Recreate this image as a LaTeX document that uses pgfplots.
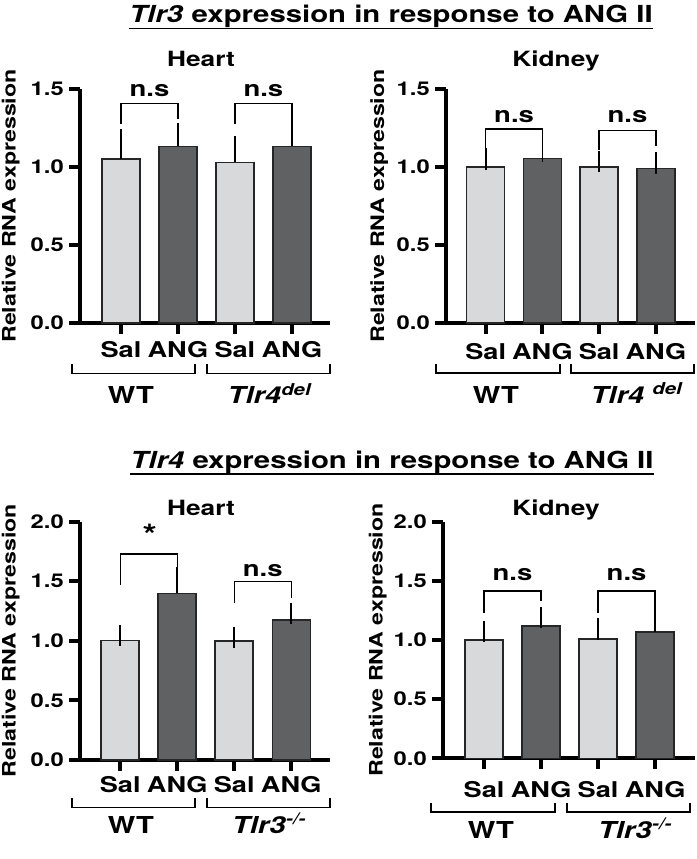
\documentclass[border=0pt]{standalone}
\usepackage{fontspec}
\setmainfont{TeX Gyre Heros}[FakeStretch=1.25]
\usepackage{pgfplots}
\pgfplotsset{compat=1.18}
\definecolor{lightbar}{HTML}{D8D9DB}
\definecolor{darkbar}{HTML}{606163}
\pgfplotsset{
  panel/.style={
    scale only axis, clip=false,
    axis x line=bottom, axis y line=left,
    axis line style={-, line width=3pt, black},
    ymin=0,
    xtick={0,1,2,3}, xticklabels={},
    tick align=outside, xtick pos=bottom, ytick pos=left,
    major tick length=8pt,
    major tick style={line width=3pt, black},
    yticklabel style={font=\fontsize{14.25}{17}\selectfont\bfseries, inner sep=4pt,
      /pgf/number format/.cd, fixed, fixed zerofill, precision=1, assume math mode=true},
    ylabel={Relative RNA expression},
    ylabel style={font=\fontsize{13.9}{16}\selectfont\bfseries,
      at={(axis description cs:0,0.5)}, anchor=center},
  },
  barbase/.style={ybar, bar width=28.5pt, bar shift=0pt, draw=black!85, line width=1.1pt,
    error bars/.cd, y dir=plus, y explicit,
    error bar style={line width=1.2pt, black},
    error mark options={line width=1.2pt, black, mark size=8pt}},
  lbar/.style={fill=lightbar, barbase},
  dbar/.style={fill=darkbar, barbase},
}
\tikzset{
  sig/.style={line width=1pt, black},
  sigtext/.style={font=\fontsize{16.5}{20}\selectfont\bfseries, anchor=base, inner sep=0pt},
  xtl/.style={font=\fontsize{16.3}{20}\selectfont\bfseries, anchor=base, inner sep=0pt},
}
\newcommand{\grp}{\fontsize{17.5}{21}\selectfont\bfseries}
\newcommand{\sub}{\fontsize{15.75}{19}\selectfont\bfseries}
\newcommand{\ttl}{\fontsize{17.6}{21}\selectfont\bfseries}
\newcommand{\xlabs}[1]{%
  \node[xtl, yshift=-#1] at (axis cs:0,0) {Sal};
  \node[xtl, yshift=-#1] at (axis cs:1,0) {ANG};
  \node[xtl, yshift=-#1] at (axis cs:2,0) {Sal};
  \node[xtl, yshift=-#1] at (axis cs:3,0) {ANG};}
\begin{document}
\begin{tikzpicture}[x=0.75pt, y=0.75pt]
\useasboundingbox (0,0) rectangle (696,859);

% ---------- Titles ----------
\node[anchor=base, inner sep=0pt] (t1) at (391,{859-22.7})
  {\ttl\textit{Tlr3} expression in response to ANG II};
\draw[line width=1.3pt] (t1.west |- 0,{859-28.5}) -- (t1.east |- 0,{859-28.5});
\node[anchor=base, inner sep=0pt] (t2) at (392,{859-468.3})
  {\ttl\textit{Tlr4} expression in response to ANG II};
\draw[line width=1.3pt] (t2.west |- 0,{859-474}) -- (t2.east |- 0,{859-474});

\node[anchor=base, inner sep=0pt] at (201,{859-66.7}) {\sub Heart};
\node[anchor=base, inner sep=0pt] at (556,{859-66.7}) {\sub Kidney};
\node[anchor=base, inner sep=0pt] at (201,{859-516}) {\sub Heart};
\node[anchor=base, inner sep=0pt] at (556,{859-516}) {\sub Kidney};

% ---------- Panel 1: Tlr3, Heart ----------
\begin{axis}[panel, at={(60pt,402pt)}, anchor=south west,
  width=187.5pt, height=175.5pt, xmin=-0.72, xmax=3.67,
  ymax=1.5, ytick={0,0.5,1,1.5}, ylabel style={yshift=52pt}]
\addplot[lbar] coordinates {(0,1.051) +- (0,0.124) (2,1.030) +- (0,0.098)};
\addplot[dbar] coordinates {(1,1.132) +- (0,0.082) (3,1.132) +- (0,0.118)};
\draw[sig] (axis cs:0,1.278) |- (axis cs:1,1.406) -- (axis cs:1,1.308);
\draw[sig] (axis cs:2,1.278) |- (axis cs:3,1.406) -- (axis cs:3,1.315);
\node[sigtext] at (axis cs:0.5,1.453) {n.s};
\node[sigtext] at (axis cs:2.5,1.453) {n.s};
\xlabs{26.25pt}
\end{axis}

% ---------- Panel 2: Tlr3, Kidney ----------
\begin{axis}[panel, at={(334.5pt,402pt)}, anchor=south west,
  width=186.75pt, height=175.5pt, xmin=-0.70, xmax=3.69,
  ymax=1.5, ytick={0,0.5,1,1.5}, ylabel style={yshift=50pt}]
\addplot[lbar] coordinates {(0,1.000) +- (0,0.051) (2,1.000) +- (0,0.036)};
\addplot[dbar] coordinates {(1,1.053) +- (0,0.047) (3,0.990) +- (0,0.036)};
\draw[sig] (axis cs:0,1.107) |- (axis cs:1,1.244) -- (axis cs:1,1.132);
\draw[sig] (axis cs:2,1.107) |- (axis cs:3,1.236) -- (axis cs:3,1.132);
\node[sigtext] at (axis cs:0.5,1.282) {n.s};
\node[sigtext] at (axis cs:2.5,1.282) {n.s};
\xlabs{27.5pt}
\end{axis}

% ---------- Panel 3: Tlr4, Heart ----------
\begin{axis}[panel, at={(60pt,74.25pt)}, anchor=south west,
  width=187.5pt, height=178.7pt, xmin=-0.705, xmax=3.68,
  ymax=2, ytick={0,0.5,1,1.5,2}, ylabel style={yshift=52pt}]
\addplot[lbar] coordinates {(0,1.001) +- (0,0.042) (2,0.999) +- (0,0.030)};
\addplot[dbar] coordinates {(1,1.399) +- (0,0.134) (3,1.175) +- (0,0.056)};
\draw[sig] (axis cs:0,1.469) |- (axis cs:1,1.729) -- (axis cs:1,1.608);
\draw[sig] (axis cs:2,1.315) |- (axis cs:3,1.497) -- (axis cs:3,1.357);
\node[font=\fontsize{22}{24}\selectfont\bfseries, inner sep=0pt] at (axis cs:0.52,1.89) {*};
\node[sigtext] at (axis cs:2.5,1.538) {n.s};
\xlabs{24.5pt}
\end{axis}

% ---------- Panel 4: Tlr4, Kidney ----------
\begin{axis}[panel, at={(332.25pt,75.5pt)}, anchor=south west,
  width=189pt, height=177.5pt, xmin=-0.72, xmax=3.70,
  ymax=2, ytick={0,0.5,1,1.5,2}, ylabel style={yshift=49pt}]
\addplot[lbar] coordinates {(0,1.000) +- (0,0.070) (2,1.008) +- (0,0.085)};
\addplot[dbar] coordinates {(1,1.118) +- (0,0.071) (3,1.068) +- (0,0.149)};
\draw[sig] (axis cs:0,1.231) |- (axis cs:1,1.414) -- (axis cs:1,1.332);
\draw[sig] (axis cs:2,1.231) |- (axis cs:3,1.414) -- (axis cs:3,1.268);
\node[sigtext] at (axis cs:0.5,1.507) {n.s};
\node[sigtext] at (axis cs:2.5,1.507) {n.s};
\xlabs{29pt}
\end{axis}

% ---------- Group brackets and labels ----------
\draw[line width=0.9pt] (72,{859-364}) -- (72,{859-373.3}) -- (195,{859-373.3}) -- (195,{859-364});
\draw[line width=0.9pt] (207,{859-364}) -- (207,{859-373.3}) -- (330,{859-373.3}) -- (330,{859-364});
\node[anchor=base, inner sep=0pt] at (131,{859-404}) {\grp WT};
\node[anchor=base, inner sep=0pt] at (270,{859-404}) {\grp\textit{Tlr4}\textsuperscript{\textit{del}}};

\draw[line width=0.9pt] (436,{859-364}) -- (436,{859-373}) -- (560,{859-373}) -- (560,{859-364});
\draw[line width=0.9pt] (571,{859-364}) -- (571,{859-373}) -- (694,{859-373}) -- (694,{859-364});
\node[anchor=base, inner sep=0pt] at (496,{859-403.3}) {\grp WT};
\node[anchor=base, inner sep=0pt] at (637,{859-403.3}) {\grp\textit{Tlr4} \textsuperscript{\textit{del}}};

\draw[line width=0.9pt] (72,{859-798}) -- (72,{859-807.3}) -- (195,{859-807.3}) -- (195,{859-798});
\draw[line width=0.9pt] (207,{859-798}) -- (207,{859-807.3}) -- (330,{859-807.3}) -- (330,{859-798});
\node[anchor=base, inner sep=0pt] at (131,{859-833}) {\grp WT};
\node[anchor=base, inner sep=0pt] at (269,{859-833}) {\grp\textit{Tlr3}\textsuperscript{\textit{-/-}}};

\draw[line width=0.9pt] (431,{859-803}) -- (431,{859-812}) -- (555,{859-812}) -- (555,{859-803});
\draw[line width=0.9pt] (567,{859-803}) -- (567,{859-812}) -- (690,{859-812}) -- (690,{859-803});
\node[anchor=base, inner sep=0pt] at (491,{859-838}) {\grp WT};
\node[anchor=base, inner sep=0pt] at (635,{859-838}) {\grp\textit{Tlr3}\textsuperscript{\textit{-/-}}};
\end{tikzpicture}
\end{document}
